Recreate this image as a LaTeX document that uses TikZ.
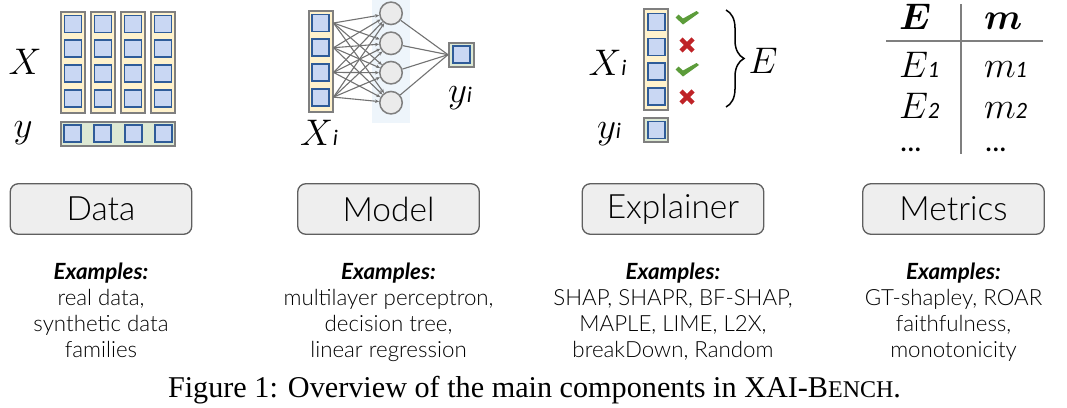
\RequirePackage{fix-cm}
\documentclass[tikz,border=0pt]{standalone}
\usepackage{amsmath}
\usepackage{fontspec}
\setmainfont{Lato}
\newfontfamily\lightfont{Lato Light}
\newfontfamily\capfont{Liberation Serif}
\usetikzlibrary{arrows.meta,decorations.pathreplacing,calc}
\definecolor{cream}{HTML}{FFF2CC}
\definecolor{sqfill}{HTML}{C9D7F3}
\definecolor{sqdraw}{HTML}{2F5C99}
\definecolor{gborder}{HTML}{7F7F7F}
\definecolor{ygreen}{HTML}{DDE9D4}
\definecolor{panel}{HTML}{EEF5FB}
\definecolor{circfill}{HTML}{EBEBEB}
\definecolor{boxfill}{HTML}{EEEEEE}
\definecolor{boxdraw}{HTML}{5F5F5F}
\definecolor{chkgreen}{HTML}{5C9C3A}
\definecolor{xred}{HTML}{BF2327}
\newcommand{\sbs}[1]{{\fontsize{21}{21}\selectfont$\mathit{#1}$}}
\newcommand{\mthsize}{\fontsize{37}{37}\selectfont}
\tikzset{
 chk/.pic={\fill[chkgreen] (-11.5,-0.5) -- (-8.5,-3.5) -- (-4,0.5) -- (9.5,-7) -- (12,-5) -- (-4,6.5) -- cycle;},
 xmark/.pic={\draw[xred,line width=4.5pt] (-6,-6) -- (6,6) (-6,6) -- (6,-6);}
}
\begin{document}
\begin{tikzpicture}[x=1pt,y=-1pt,
 sq/.style={draw=sqdraw,fill=sqfill,line width=1.8pt,minimum size=17pt,inner sep=0pt},
 colbox/.style={draw=gborder,fill=cream,line width=2pt,minimum width=24pt,minimum height=101pt,inner sep=0pt},
 ybox/.style={draw=gborder,fill=ygreen,line width=2pt,inner sep=0pt},
 neuron/.style={circle,draw=gborder,fill=circfill,line width=1.5pt,minimum size=22.5pt,inner sep=0pt},
 nnline/.style={draw=gborder!90!black,line width=1.1pt},
 comp/.style={draw=boxdraw,fill=boxfill,line width=1.3pt,rounded corners=8pt,minimum width=181.5pt,minimum height=50.5pt,inner sep=0pt,font=\lightfont\fontsize{33.5}{33.5}\selectfont},
 extext/.style={align=center,inner sep=0pt,anchor=north,font=\lightfont\fontsize{22.3}{26}\selectfont},
 lbl/.style={inner sep=0pt,font=\mthsize},
 tline/.style={draw=gborder,line width=2pt},
]
\useasboundingbox (0,0) rectangle (1067,407);
% ---------- Data ----------
\foreach \i/\x in {1/73,2/103,3/133,4/163} {
  \node[colbox] (dc\i) at (\x,62.3) {};
  \foreach \j in {1,...,4} \node[sq] (d\i\j) at (\x,{24+24.7*(\j-1)}) {};
}
\node[ybox,minimum width=114pt,minimum height=24pt] (ybar) at (118,133.7) {};
\foreach \i/\x in {1/72.5,2/102.8,3/133.5,4/163.5} \node[sq] (yv\i) at (\x,133.7) {};
\node[lbl] (lX) at (25,62) {$X$};
\node[lbl] (ly) at (23,133) {$y$};
% ---------- Model ----------
\node[fill=panel,minimum width=38pt,minimum height=123pt,inner sep=0pt] (hpanel) at (391,61.5) {};
\node[colbox] (mc) at (320.5,61) {};
\foreach \j in {1,...,4} \node[sq] (m\j) at (320.5,{23+24.7*(\j-1)}) {};
\foreach \j/\y in {1/13.3,2/43.3,3/72.7,4/102.7} \node[neuron] (h\j) at (391,\y) {};
\node[ybox,minimum width=25pt,minimum height=24pt] (mo) at (461.5,54.7) {};
\node[sq] (moi) at (461.5,54.7) {};
\foreach \a in {1,...,4} \foreach \b in {1,...,4}
  \draw[nnline,-{Stealth[length=4pt,width=3.5pt]}] (m\a.east -| mc.east) -- (h\b);
\foreach \b in {1,...,4} \draw[nnline] (h\b) -- (mo.west);
\node[lbl] (lXm) at (319,133) {$X$\sbs{i}};
\node[lbl] (lym) at (460,98) {$y$\sbs{i}};
% ---------- Explainer ----------
\node[colbox] (ec) at (656.3,59.7) {};
\foreach \j in {1,...,4} \node[sq] (e\j) at (656.3,{22+24.9*(\j-1)}) {};
\node[ybox,minimum width=24pt,minimum height=24pt] (ey) at (656.3,130) {};
\node[sq] (eyi) at (656.3,130) {};
\pic at (687,18) {chk};
\pic at (687,70) {chk};
\pic at (687,45) {xmark};
\pic at (687,97) {xmark};
\coordinate (bt) at (726,10);
\coordinate (bb) at (726,107);
\draw[decorate,decoration={brace,amplitude=18pt},line width=1.5pt] (bt) -- (bb);
\node[lbl] (lE) at (763,61) {$E$};
\node[lbl] (lXe) at (607.5,62.5) {$X$\sbs{i}};
\node[lbl] (lye) at (609,134) {$y$\sbs{i}};
% ---------- Metrics ----------
\coordinate (vt) at (960.7,4);
\coordinate (vb) at (960.7,154);
\coordinate (hl) at (886,40.7);
\coordinate (hr) at (1042.7,40.7);
\draw[tline] (vt) -- (vb);
\draw[tline] (hl) -- (hr);
\node[lbl,anchor=base west] (tE) at (899,29) {$\boldsymbol{E}$};
\node[lbl,anchor=base west] (tm) at (984,29) {$\boldsymbol{m}$};
\node[lbl,anchor=base west] (tE1) at (899,77.7) {$E$\sbs{1}};
\node[lbl,anchor=base west] (tm1) at (984,77.7) {$m$\sbs{1}};
\node[lbl,anchor=base west] (tE2) at (899,118.3) {$E$\sbs{2}};
\node[lbl,anchor=base west] (tm2) at (984,118.3) {$m$\sbs{2}};
\node[inner sep=0pt,anchor=base west,font=\fontsize{30}{30}\selectfont] (td1) at (900,151.7) {...};
\node[inner sep=0pt,anchor=base west,font=\fontsize{30}{30}\selectfont] (td2) at (985,151.7) {...};
% ---------- Components ----------
\node[comp] (bdata) at (101,209) {Data};
\node[comp] (bmodel) at (388.5,209) {Model};
\node[comp] (bexpl) at (673,209) {Explainer};
\node[comp] (bmetr) at (953.5,209) {Metrics};
\node[extext] (xdata) at (101,263) {{\normalfont\bfseries\itshape Examples:}\\real data,\\synthetic data\\families};
\node[extext] (xmodel) at (388.5,263) {{\normalfont\bfseries\itshape Examples:}\\multilayer perceptron,\\decision tree,\\linear regression};
\node[extext] (xexpl) at (673,263) {{\normalfont\bfseries\itshape Examples:}\\SHAP, SHAPR, BF-SHAP,\\MAPLE, LIME, L2X,\\breakDown, Random};
\node[extext] (xmetr) at (953.5,263) {{\normalfont\bfseries\itshape Examples:}\\GT-shapley, ROAR\\faithfulness,\\monotonicity};
% ---------- Caption ----------
\node[inner sep=0pt,anchor=base,font=\capfont\fontsize{30.2}{30.2}\selectfont] (cap) at (534.5,397) {Figure 1: Overview of the main components in XAI-B{\fontsize{24}{24}\selectfont ENCH}.};
\end{tikzpicture}
\end{document}
